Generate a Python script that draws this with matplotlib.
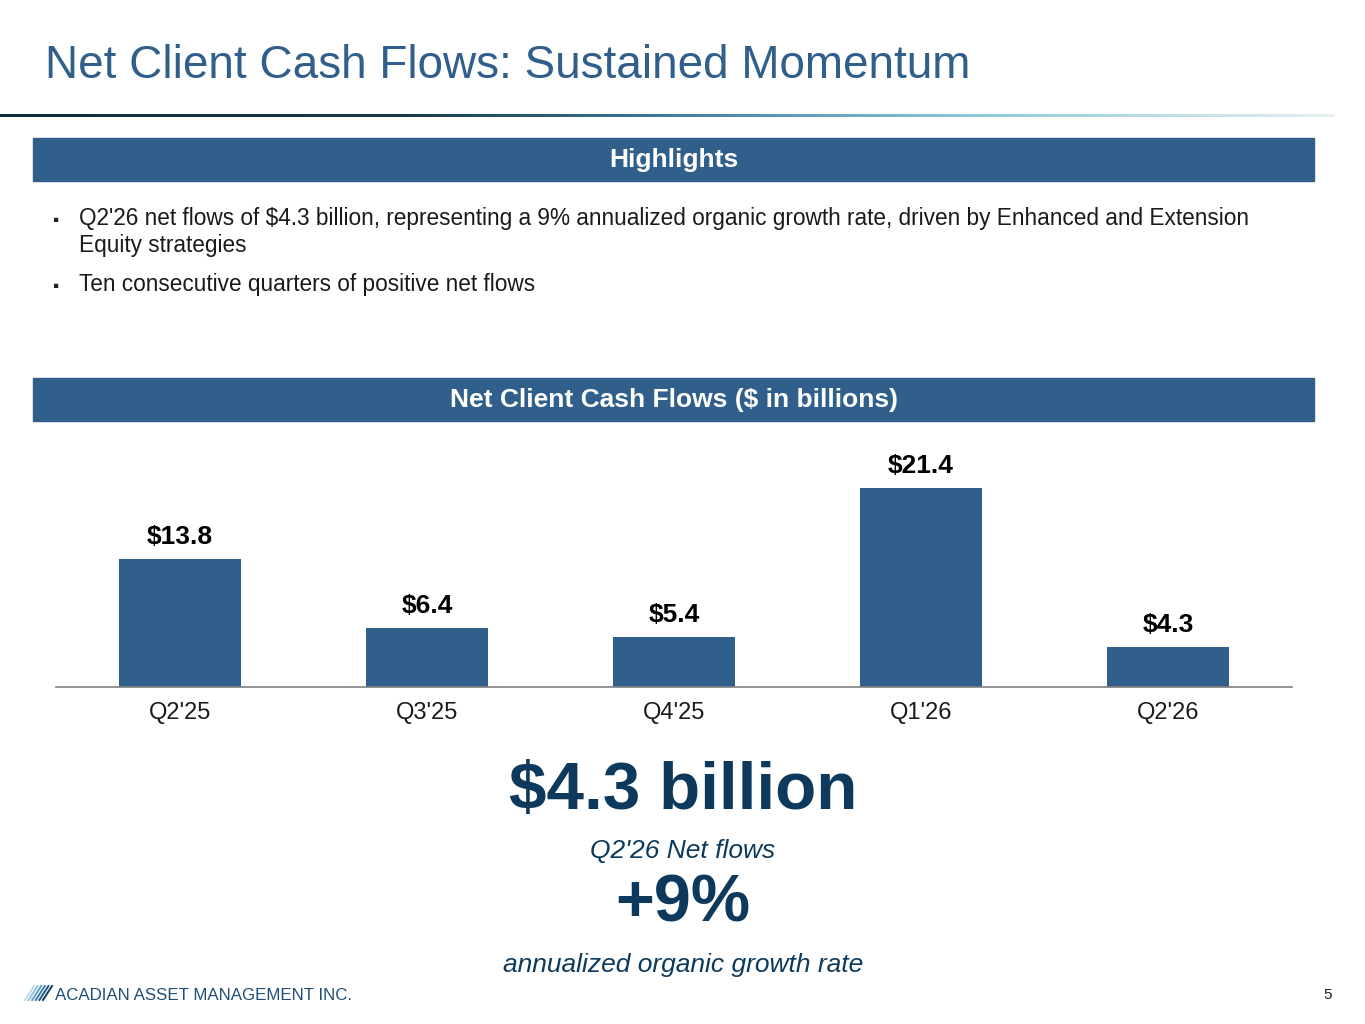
#=== Define package ===#
import numpy as np
import matplotlib
matplotlib.use('Agg')
import matplotlib.pyplot as plt
from matplotlib.colors import LinearSegmentedColormap

#=== Data ===#
quarters = ["Q2'25", "Q3'25", "Q4'25", "Q1'26", "Q2'26"]
net_flows = [13.8, 6.4, 5.4, 21.4, 4.3]
value_labels = ["$13.8", "$6.4", "$5.4", "$21.4", "$4.3"]

title_text = "Net Client Cash Flows: Sustained Momentum"
bullets = [
    ["Q2'26 net flows of $4.3 billion, representing a 9% annualized organic growth rate, driven by Enhanced and Extension",
     "Equity strategies"],
    ["Ten consecutive quarters of positive net flows"],
]

#=== Style ===#
W, H = 1365, 1024
BLUE = '#2F5F8A'
NAVY = '#0D3A5C'
plt.rcParams['font.family'] = ['Liberation Sans', 'DejaVu Sans']


def fx(x):
    return x / W


def fy(y):
    return 1 - y / H


fig = plt.figure(figsize=(W / 100, H / 100), dpi=100)

#=== Title ===#
fig.text(fx(45), fy(78), title_text, fontsize=33, color=BLUE, ha='left', va='baseline')

#=== Gradient rule under title ===#
ax_line = fig.add_axes([0, fy(117), fx(1335), 3.5 / H])
grad_cmap = LinearSegmentedColormap.from_list(
    'rule', [(0.0, '#0E2C3C'), (0.3, '#17394A'), (0.5, '#3F7C98'),
             (0.72, '#86C8DA'), (0.88, '#BFDFE7'), (1.0, '#E6EEF0')])
ax_line.imshow(np.linspace(0, 1, 512).reshape(1, -1), aspect='auto', cmap=grad_cmap,
               extent=[0, 1, 0, 1])
ax_line.set_axis_off()

#=== Section bands ===#
for y0, y1, label in [(138, 181, "Highlights"), (378, 421, "Net Client Cash Flows ($ in billions)")]:
    fig.patches.append(plt.Rectangle((fx(33), fy(y1)), fx(1314 - 33), (y1 - y0) / H,
                                     transform=fig.transFigure, color=BLUE, zorder=0))
    fig.text(fx(674), fy((y0 + y1) / 2 + 1), label, fontsize=19, fontweight='bold',
             color='white', ha='center', va='center')

#=== Bullets ===#
bullet_y = [225, 291]
for yy, lines in zip(bullet_y, bullets):
    fig.text(fx(52), fy(yy), "\u25aa", fontsize=12.5, color='#222222', ha='left', va='baseline')
    for k, txt in enumerate(lines):
        fig.text(fx(79), fy(yy + k * 27), txt, fontsize=16.3, color='#1A1A1A',
                 ha='left', va='baseline')

#=== Bar chart ===#
ax = fig.add_axes([fx(56), fy(687), fx(1292 - 56), (687 - 464) / H])
x = np.arange(len(quarters))
ax.bar(x, net_flows, width=0.494, color=BLUE)
for xi, v, lab in zip(x, net_flows, value_labels):
    ax.annotate(lab, (xi, v), xytext=(0, 10.8), textcoords='offset points',
                ha='center', va='baseline', fontsize=19, fontweight='bold', color='black')
ax.set_xlim(-0.502, len(quarters) - 0.498)
ax.set_ylim(0, 24)
ax.set_xticks(x)
ax.set_xticklabels(quarters, fontsize=17, color='#1A1A1A')
ax.tick_params(axis='x', length=0, pad=11)
ax.set_yticks([])
for s in ['top', 'left', 'right']:
    ax.spines[s].set_visible(False)
ax.spines['bottom'].set_color('#808080')
ax.spines['bottom'].set_linewidth(1.2)
ax.patch.set_alpha(0)

#=== Callouts ===#
fig.text(fx(683), fy(809), "$4.3 billion", fontsize=48.5, fontweight='bold', color=NAVY,
         ha='center', va='baseline')
fig.text(fx(683), fy(858), "Q2'26 Net flows", fontsize=19, fontstyle='italic', color=NAVY,
         ha='center', va='baseline')
fig.text(fx(683), fy(921), "+9%", fontsize=48, fontweight='bold', color=NAVY,
         ha='center', va='baseline')
fig.text(fx(683), fy(972), "annualized organic growth rate", fontsize=19, fontstyle='italic',
         color=NAVY, ha='center', va='baseline')

#=== Footer ===#
stripe_cols = ['#B9DDEA', '#8FC4DA', '#5E9FC0', '#3B7AA3', '#1F5680', '#0D3A5C']
for i, c in enumerate(stripe_cols):
    x0 = 25 + i * 3.6
    fig.lines.append(plt.Line2D([fx(x0), fx(x0 + 9)], [fy(1000), fy(986)],
                                transform=fig.transFigure, color=c, linewidth=1.4))
fig.text(fx(55), fy(1000), "ACADIAN ASSET MANAGEMENT INC.", fontsize=12.2,
         color='#1F4E79', ha='left', va='baseline')
fig.text(fx(1332), fy(999), "5", fontsize=11, color='#1A1A1A', ha='right', va='baseline')

fig.savefig('out.png', dpi=100)
